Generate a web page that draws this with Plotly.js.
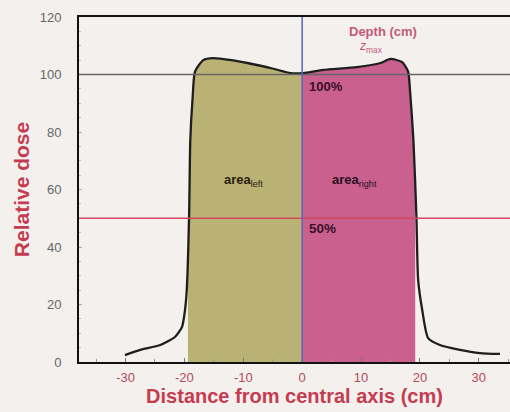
<!DOCTYPE html>
<html>
<head>
<meta charset="utf-8">
<script src="https://cdn.plot.ly/plotly-3.0.1.min.js"></script>
<style>html,body{margin:0;padding:0;background:#f3f0ed;}#chart{width:510px;height:412px;}</style>
</head>
<body>
<div id="chart"></div>
<script>
// Beam profile
const profileX = [-30.1, -27.5, -24.1, -21.6, -20.4, -19.9, -19.6, -19.2, -19.0, -18.6, -18.2, -16.8, -15.1, -12.0, -9.3, -4.9, -2.0, 0.2, 3.6, 9.3, 13.3, 15.0, 17.0, 18.0, 18.3, 18.9, 19.4, 19.7, 20.4, 21.4, 23.4, 26.8, 30.2, 33.6];
const profileY = [2.4, 4.2, 5.9, 8.7, 12.2, 18, 25, 51, 77, 92, 101, 105, 105.7, 105, 104, 102, 100.5, 100.5, 101.6, 102.6, 104, 105.4, 104.3, 101, 95, 77, 51, 28.5, 18, 8.3, 5.9, 4.2, 3.1, 2.8];
const fieldLeft = -19.4;
const fieldRight = 19.2;
const centralAxis = 0;
const refLevels = [100, 50];
const xTicks = [-30, -20, -10, 0, 10, 20, 30];
const yTicks = [0, 20, 40, 60, 80, 100, 120];

function interp(x) {
  for (let i = 0; i < profileX.length - 1; i++) {
    if (x >= profileX[i] && x <= profileX[i + 1]) {
      const t = (x - profileX[i]) / (profileX[i + 1] - profileX[i]);
      return profileY[i] + t * (profileY[i + 1] - profileY[i]);
    }
  }
  return 0;
}
function segment(a, b) {
  const xs = [a], ys = [interp(a)];
  profileX.forEach((x, i) => { if (x > a && x < b) { xs.push(x); ys.push(profileY[i]); } });
  xs.push(b); ys.push(interp(b));
  return {xs, ys};
}
const L = segment(fieldLeft, centralAxis);
const R = segment(centralAxis, fieldRight);

const traces = [
  {x: L.xs, y: L.ys, type: 'scatter', mode: 'lines', fill: 'tozeroy', fillcolor: '#bab274', line: {width: 0, shape: 'spline', smoothing: 0.6}, hoverinfo: 'skip'},
  {x: R.xs, y: R.ys, type: 'scatter', mode: 'lines', fill: 'tozeroy', fillcolor: '#c9608e', line: {width: 0, shape: 'spline', smoothing: 0.6}, hoverinfo: 'skip'},
  {x: profileX, y: profileY, type: 'scatter', mode: 'lines', line: {color: '#1e1e1e', width: 2.3, shape: 'spline', smoothing: 0.6}}
];

const redTitle = '#c53c50';
const layout = {
  width: 510, height: 412,
  margin: {l: 79, r: 0, t: 17, b: 50},
  paper_bgcolor: '#f3f0ed', plot_bgcolor: '#f3f0ed',
  showlegend: false,
  font: {family: 'Liberation Sans, Arial, sans-serif'},
  xaxis: {
    range: [-37.9, 35.3], tickvals: xTicks, ticktext: xTicks.map(String),
    showgrid: false, zeroline: false, showline: true, linecolor: '#111', linewidth: 2, mirror: true,
    ticks: 'inside', ticklen: 4, tickcolor: '#777',
    minor: {tickvals: [-35, -25, -15, -5, 5, 15, 25, 35], ticks: 'inside', ticklen: 3, tickcolor: '#999'},
    tickfont: {size: 13, color: '#b34a5c'}, ticklabelstandoff: 2,
    title: {text: '<b>Distance from central axis (cm)</b>', font: {size: 20, color: redTitle}, standoff: 4},
    automargin: false
  },
  yaxis: {
    range: [0, 120], tickvals: yTicks,
    showgrid: false, zeroline: false, showline: true, linecolor: '#111', linewidth: 2,
    ticks: 'inside', ticklen: 3, tickcolor: '#aaa',
    minor: {dtick: 5, ticks: 'inside', ticklen: 2, tickcolor: '#bbb'},
    tickfont: {size: 13, color: '#666'}, ticklabelstandoff: 13,
    title: {text: '<b>Relative dose</b>', font: {size: 21, color: redTitle}, standoff: 4},
    automargin: false
  },
  shapes: [
    {type: 'line', xref: 'paper', x0: 0, x1: 1, yref: 'y', y0: refLevels[0], y1: refLevels[0], line: {color: '#666', width: 1.5}, layer: 'above'},
    {type: 'line', xref: 'paper', x0: 0, x1: 1, yref: 'y', y0: refLevels[1], y1: refLevels[1], line: {color: '#d2495e', width: 1.5}, layer: 'above'},
    {type: 'line', xref: 'x', x0: centralAxis, x1: centralAxis, yref: 'paper', y0: 0, y1: 1, line: {color: '#5a5fc4', width: 1.5}, layer: 'above'}
  ],
  annotations: [
    {x: 13.8, y: 114.8, text: '<b>Depth (cm)</b>', showarrow: false, font: {size: 13, color: '#c25a7c'}},
    {x: 11.7, y: 109.4, text: '<i>z</i><sub>max</sub>', showarrow: false, font: {size: 12, color: '#c25a7c'}},
    {x: 0.8, y: 95.7, xanchor: 'left', text: '<b>100%</b>', showarrow: false, font: {size: 13, color: '#3a1028'}},
    {x: 0.9, y: 46.5, xanchor: 'left', text: '<b>50%</b>', showarrow: false, font: {size: 13.5, color: '#3a1028'}},
    {x: -10.0, y: 63.3, text: '<b>area</b><sub>left</sub>', showarrow: false, font: {size: 13, color: '#2a2010'}},
    {x: 8.9, y: 63.3, text: '<b>area</b><sub>right</sub>', showarrow: false, font: {size: 13, color: '#2a1020'}}
  ]
};
Plotly.newPlot('chart', traces, layout, {displayModeBar: false, staticPlot: true});
</script>
</body>
</html>
